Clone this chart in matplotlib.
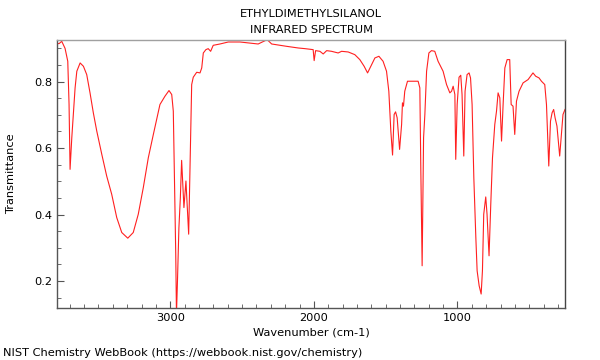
import matplotlib
matplotlib.use("Agg")
import matplotlib.pyplot as plt
from matplotlib.ticker import MultipleLocator

title_lines = ["ETHYLDIMETHYLSILANOL", "INFRARED SPECTRUM"]
footer = "NIST Chemistry WebBook (https://webbook.nist.gov/chemistry)"

# wavenumber (cm-1) and transmittance
wavenumber = [
    3789, 3775, 3756, 3733, 3714, 3705, 3698, 3686, 3675, 3663, 3651, 3628,
    3605, 3582, 3559, 3536, 3512, 3477, 3443, 3408, 3373, 3338, 3296, 3258,
    3223, 3188, 3153, 3118, 3072, 3037, 3009, 2990, 2979, 2972, 2962, 2957,
    2950, 2940, 2930, 2921, 2905, 2891, 2872, 2863, 2851, 2840, 2816, 2793,
    2781, 2770, 2752, 2736, 2719, 2701, 2654, 2596, 2515, 2388, 2325, 2294,
    2190, 2109, 2062, 2005, 1998, 1988, 1958, 1935, 1911, 1877, 1831, 1807,
    1761, 1715, 1680, 1650, 1626, 1603, 1575, 1547, 1518, 1494, 1478, 1464,
    1452, 1441, 1431, 1420, 1403, 1389, 1383, 1376, 1367, 1348, 1274, 1262,
    1255, 1246, 1236, 1227, 1215, 1199, 1181, 1158, 1135, 1100, 1076, 1053,
    1041, 1030, 1018, 1012, 1002, 989, 977, 968, 956, 947, 933, 919,
    909, 898, 886, 872, 863, 849, 835, 826, 817, 803, 794, 780,
    768, 756, 740, 728, 717, 705, 693, 682, 670, 654, 636, 626,
    613, 601, 589, 571, 543, 508, 474, 455, 432, 415, 392, 380,
    364, 352, 341, 330, 320, 307, 288, 276, 265, 251,
]
transmittance = [
    0.915, 0.914, 0.921, 0.900, 0.861, 0.731, 0.536, 0.631, 0.701, 0.781, 0.831, 0.856,
    0.846, 0.821, 0.766, 0.706, 0.651, 0.581, 0.516, 0.461, 0.391, 0.346, 0.329, 0.346,
    0.401, 0.481, 0.571, 0.641, 0.731, 0.756, 0.773, 0.761, 0.711, 0.531, 0.281, 0.100,
    0.200, 0.360, 0.450, 0.563, 0.421, 0.501, 0.341, 0.531, 0.791, 0.813, 0.828, 0.826,
    0.841, 0.886, 0.896, 0.899, 0.891, 0.909, 0.913, 0.919, 0.919, 0.913, 0.926, 0.913,
    0.906, 0.901, 0.899, 0.896, 0.863, 0.893, 0.891, 0.883, 0.893, 0.891, 0.886, 0.891,
    0.889, 0.881, 0.866, 0.846, 0.826, 0.846, 0.871, 0.876, 0.861, 0.831, 0.771, 0.651,
    0.579, 0.701, 0.709, 0.691, 0.596, 0.671, 0.736, 0.726, 0.771, 0.801, 0.801, 0.781,
    0.531, 0.246, 0.631, 0.701, 0.831, 0.886, 0.893, 0.891, 0.861, 0.831, 0.791, 0.766,
    0.771, 0.786, 0.761, 0.566, 0.731, 0.813, 0.819, 0.761, 0.576, 0.771, 0.821, 0.826,
    0.811, 0.731, 0.511, 0.331, 0.231, 0.186, 0.161, 0.231, 0.401, 0.453, 0.401, 0.276,
    0.431, 0.571, 0.671, 0.711, 0.766, 0.751, 0.621, 0.731, 0.841, 0.866, 0.866, 0.731,
    0.726, 0.641, 0.741, 0.771, 0.796, 0.806, 0.826, 0.816, 0.811, 0.801, 0.791, 0.731,
    0.546, 0.681, 0.706, 0.716, 0.691, 0.666, 0.576, 0.641, 0.701, 0.716,
]

fig = plt.figure(figsize=(6, 3.6), dpi=100)
ax = fig.add_axes([57 / 600, 1 - 308 / 360, 508 / 600, 268 / 360])

ax.plot(wavenumber, transmittance, color="#ff2020", lw=0.8)

ax.set_xlim(3789, 251)
ax.set_ylim(0.119, 0.925)

ax.xaxis.set_major_locator(MultipleLocator(1000))
ax.xaxis.set_minor_locator(MultipleLocator(100))
ax.yaxis.set_major_locator(MultipleLocator(0.2))
ax.yaxis.set_minor_locator(MultipleLocator(0.05))
ax.tick_params(which="both", direction="in", color="#555555", labelsize=8.2,
               top=False, right=False)
ax.tick_params(which="major", length=5)
ax.tick_params(which="minor", length=3)

ax.spines["top"].set_color("#a0a0a0")
ax.spines["right"].set_color("#444444")
ax.spines["left"].set_color("#555555")
ax.spines["bottom"].set_color("#555555")
for s in ax.spines.values():
    s.set_linewidth(1.0)

ax.set_xlabel("Wavenumber (cm-1)", fontsize=8.2, labelpad=3)
ax.set_ylabel("Transmittance", fontsize=8.2, labelpad=13)

fig.text(311 / 600, 1 - 14 / 360, title_lines[0], ha="center", va="center", fontsize=8.2)
fig.text(311 / 600, 1 - 30 / 360, title_lines[1], ha="center", va="center", fontsize=8.2)
fig.text(3 / 600, 1 - 353 / 360, footer, ha="left", va="center", fontsize=8.2)

fig.savefig("out.png", dpi=100)
